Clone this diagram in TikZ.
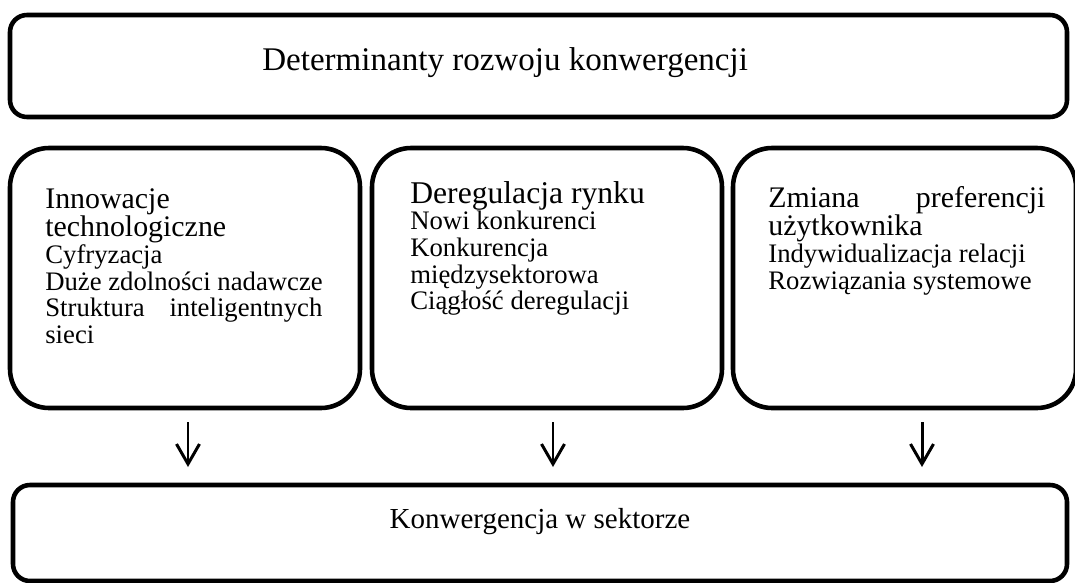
\documentclass[tikz,border=0pt]{standalone}
\usepackage{fontspec}
\setmainfont{Liberation Serif}
\usetikzlibrary{calc,arrows.meta}
\newcommand{\naglowek}{\fontsize{17}{17}\selectfont}
\newcommand{\punkt}{\fontsize{15.2}{15.2}\selectfont}

\begin{document}
\begin{tikzpicture}[
    blok/.style={draw,line width=2.6pt,outer sep=0pt,inner sep=0pt,anchor=north west},
    bigbox/.style={blok,rounded corners=0.34cm},
    colbox/.style={blok,rounded corners=0.78cm,minimum height=5.2cm},
    coltext/.style={anchor=base west,inner sep=0pt,align=flush left,text width=6cm,font=\punkt},
    flow/.style={-{Straight Barb[length=0.4cm,width=0.46cm]},line width=1.7pt,
      shorten <=0.28cm,shorten >=0.36cm}
  ]
    \useasboundingbox (0,0) rectangle (21.5,-11.66);

    % top box
    \node[bigbox,minimum width=21.14cm,minimum height=2.04cm] (det) at (0.2,-0.3) {};
    \node[anchor=base west,inner sep=0pt,font=\fontsize{18.8}{22}\selectfont] (dettxt)
      at ($(det.north west)+(5.04,-1.1)$) {Determinanty rozwoju konwergencji};

    % three columns
    \node[colbox,minimum width=7cm] (inno) at (0.2,-2.96) {};
    \node[coltext] (innotxt) at ($(inno.north west)+(0.7,-1.2)$)
      {{\naglowek Innowacje\\ technologiczne}\\ Cyfryzacja\\ Duże zdolności nadawcze\\
       \makebox[5.54cm][s]{Struktura\hfill inteligentnych}\\ sieci};

    \node[colbox,minimum width=7cm] (dereg) at (7.44,-2.96) {};
    \node[coltext] (deregtxt) at ($(dereg.north west)+(0.76,-1.1)$)
      {{\fontsize{18}{18}\selectfont Deregulacja rynku}\\ Nowi konkurenci\\ Konkurencja\\
       międzysektorowa\\ Ciągłość deregulacji};

    \node[colbox,minimum width=6.86cm] (pref) at (14.66,-2.96) {};
    \node[coltext] (preftxt) at ($(pref.north west)+(0.7,-1.18)$)
      {{\naglowek \makebox[5.54cm][s]{Zmiana\hfill preferencji}\\ użytkownika}\\
       Indywidualizacja relacji\\ Rozwiązania systemowe};

    % bottom box
    \node[bigbox,minimum width=21.08cm,minimum height=1.92cm] (konw) at (0.26,-9.7) {};
    \node[anchor=base,inner sep=0pt,font=\fontsize{16.5}{20}\selectfont] (konwtxt)
      at ($(konw.north)+(0,-0.86)$) {Konwergencja w sektorze};

    % arrows
    \draw[flow] ([xshift=0.06cm]inno.south) -- ([xshift=0.06cm]inno.south |- konw.north);
    \draw[flow] ([xshift=0.12cm]dereg.south) -- ([xshift=0.12cm]dereg.south |- konw.north);
    \draw[flow] ([xshift=0.35cm]pref.south) -- ([xshift=0.35cm]pref.south |- konw.north);
\end{tikzpicture}
\end{document}
